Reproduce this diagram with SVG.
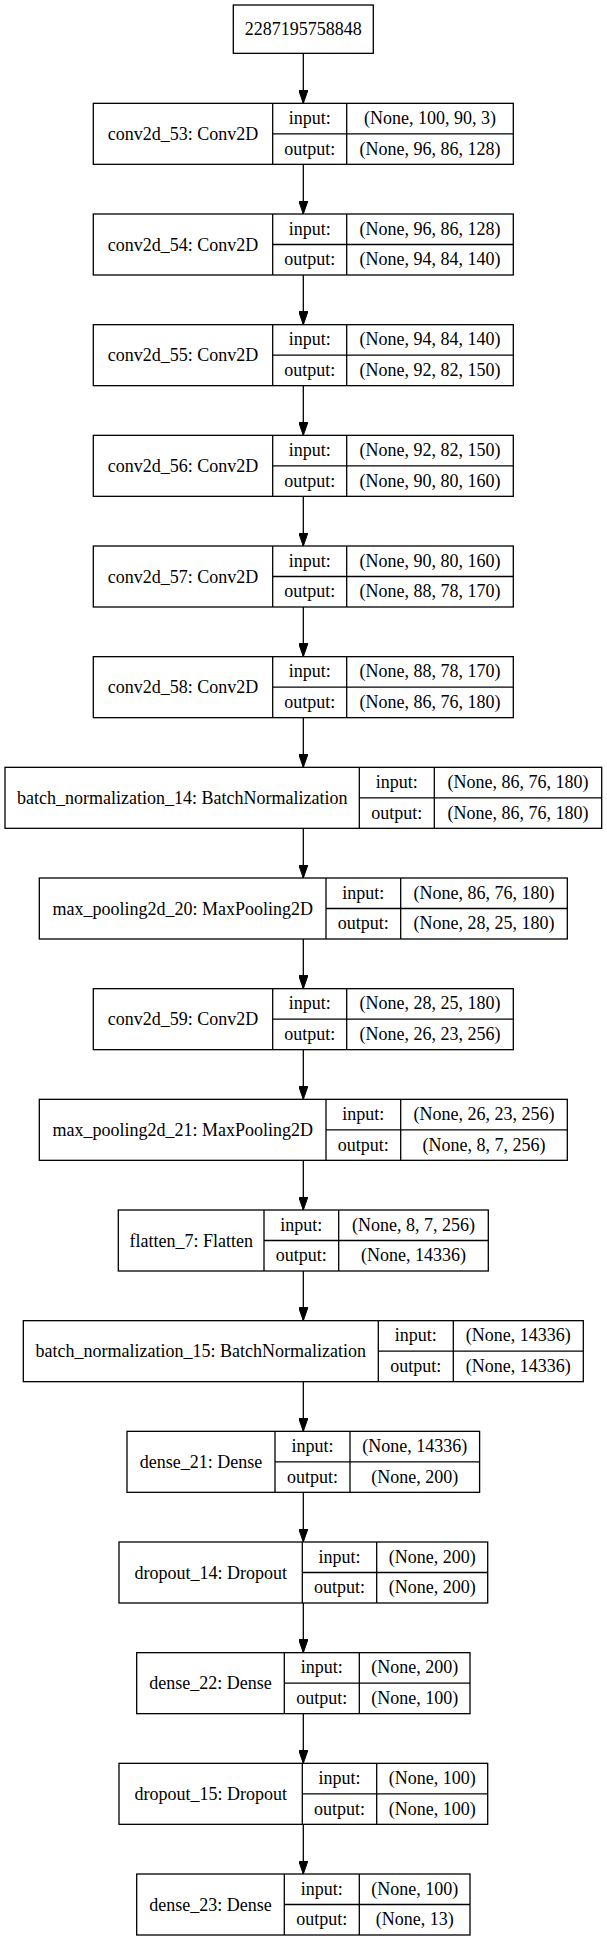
<svg xmlns="http://www.w3.org/2000/svg" width="607" height="1941" viewBox="0 0 607 1941" font-family="'Liberation Serif', 'Times New Roman', Times, 'DejaVu Serif', serif">
<style>
rect.b{fill:#fff;stroke:#000;stroke-width:1.3}
line.d{stroke:#000;stroke-width:1.3}
text{font-family:'Liberation Serif','Times New Roman',Times,'DejaVu Serif',serif;font-size:18px;fill:#000;text-anchor:middle}
.e line{stroke:#000;stroke-width:1.3}
</style>
<defs>
<marker id="ah" viewBox="0 0 13.33 9.33" refX="13.33" refY="4.67" markerWidth="13.33" markerHeight="9.33" markerUnits="userSpaceOnUse" orient="auto">
<path d="M0,0 L13.33,4.67 L0,9.33 z" fill="#000" stroke="#000" stroke-width="1"/>
</marker>
</defs>
<rect width="607" height="1941" fill="#fff"/>
<g id="edges" class="e">
<line x1="303.3" y1="53.33" x2="303.3" y2="103.33" marker-end="url(#ah)"/>
<line x1="303.3" y1="164.33" x2="303.3" y2="214" marker-end="url(#ah)"/>
<line x1="303.3" y1="275" x2="303.3" y2="324.67" marker-end="url(#ah)"/>
<line x1="303.3" y1="385.67" x2="303.3" y2="435.33" marker-end="url(#ah)"/>
<line x1="303.3" y1="496.33" x2="303.3" y2="546" marker-end="url(#ah)"/>
<line x1="303.3" y1="607" x2="303.3" y2="656.67" marker-end="url(#ah)"/>
<line x1="303.3" y1="717.67" x2="303.3" y2="767.33" marker-end="url(#ah)"/>
<line x1="303.3" y1="828.33" x2="303.3" y2="878" marker-end="url(#ah)"/>
<line x1="303.3" y1="939" x2="303.3" y2="988.67" marker-end="url(#ah)"/>
<line x1="303.3" y1="1049.67" x2="303.3" y2="1099.33" marker-end="url(#ah)"/>
<line x1="303.3" y1="1160.33" x2="303.3" y2="1210" marker-end="url(#ah)"/>
<line x1="303.3" y1="1271" x2="303.3" y2="1320.67" marker-end="url(#ah)"/>
<line x1="303.3" y1="1381.67" x2="303.3" y2="1431.33" marker-end="url(#ah)"/>
<line x1="303.3" y1="1492.33" x2="303.3" y2="1542" marker-end="url(#ah)"/>
<line x1="303.3" y1="1603" x2="303.3" y2="1652.67" marker-end="url(#ah)"/>
<line x1="303.3" y1="1713.67" x2="303.3" y2="1763.33" marker-end="url(#ah)"/>
<line x1="303.3" y1="1824.33" x2="303.3" y2="1874" marker-end="url(#ah)"/>
</g>
<g id="input_node">
<rect class="b" x="233.3" y="5" width="140" height="48.33"/>
<text x="303.3" y="35">2287195758848</text>
</g>
<g id="conv2d_53" transform="translate(0,103.33)">
<rect class="b" x="93.3" y="0" width="420" height="61"/>
<line class="d" x1="272.7" y1="0" x2="272.7" y2="61"/>
<line class="d" x1="346.7" y1="0" x2="346.7" y2="61"/>
<line class="d" x1="272.7" y1="30.5" x2="513.3" y2="30.5"/>
<text x="183" y="36.5">conv2d_53: Conv2D</text>
<text x="309.7" y="20.8">input:</text>
<text x="309.7" y="51.3">output:</text>
<text x="430" y="20.8">(None, 100, 90, 3)</text>
<text x="430" y="51.3">(None, 96, 86, 128)</text>
</g>
<g id="conv2d_54" transform="translate(0,214)">
<rect class="b" x="93.3" y="0" width="420" height="61"/>
<line class="d" x1="272.7" y1="0" x2="272.7" y2="61"/>
<line class="d" x1="346.7" y1="0" x2="346.7" y2="61"/>
<line class="d" x1="272.7" y1="30.5" x2="513.3" y2="30.5"/>
<text x="183" y="36.5">conv2d_54: Conv2D</text>
<text x="309.7" y="20.8">input:</text>
<text x="309.7" y="51.3">output:</text>
<text x="430" y="20.8">(None, 96, 86, 128)</text>
<text x="430" y="51.3">(None, 94, 84, 140)</text>
</g>
<g id="conv2d_55" transform="translate(0,324.67)">
<rect class="b" x="93.3" y="0" width="420" height="61"/>
<line class="d" x1="272.7" y1="0" x2="272.7" y2="61"/>
<line class="d" x1="346.7" y1="0" x2="346.7" y2="61"/>
<line class="d" x1="272.7" y1="30.5" x2="513.3" y2="30.5"/>
<text x="183" y="36.5">conv2d_55: Conv2D</text>
<text x="309.7" y="20.8">input:</text>
<text x="309.7" y="51.3">output:</text>
<text x="430" y="20.8">(None, 94, 84, 140)</text>
<text x="430" y="51.3">(None, 92, 82, 150)</text>
</g>
<g id="conv2d_56" transform="translate(0,435.33)">
<rect class="b" x="93.3" y="0" width="420" height="61"/>
<line class="d" x1="272.7" y1="0" x2="272.7" y2="61"/>
<line class="d" x1="346.7" y1="0" x2="346.7" y2="61"/>
<line class="d" x1="272.7" y1="30.5" x2="513.3" y2="30.5"/>
<text x="183" y="36.5">conv2d_56: Conv2D</text>
<text x="309.7" y="20.8">input:</text>
<text x="309.7" y="51.3">output:</text>
<text x="430" y="20.8">(None, 92, 82, 150)</text>
<text x="430" y="51.3">(None, 90, 80, 160)</text>
</g>
<g id="conv2d_57" transform="translate(0,546)">
<rect class="b" x="93.3" y="0" width="420" height="61"/>
<line class="d" x1="272.7" y1="0" x2="272.7" y2="61"/>
<line class="d" x1="346.7" y1="0" x2="346.7" y2="61"/>
<line class="d" x1="272.7" y1="30.5" x2="513.3" y2="30.5"/>
<text x="183" y="36.5">conv2d_57: Conv2D</text>
<text x="309.7" y="20.8">input:</text>
<text x="309.7" y="51.3">output:</text>
<text x="430" y="20.8">(None, 90, 80, 160)</text>
<text x="430" y="51.3">(None, 88, 78, 170)</text>
</g>
<g id="conv2d_58" transform="translate(0,656.67)">
<rect class="b" x="93.3" y="0" width="420" height="61"/>
<line class="d" x1="272.7" y1="0" x2="272.7" y2="61"/>
<line class="d" x1="346.7" y1="0" x2="346.7" y2="61"/>
<line class="d" x1="272.7" y1="30.5" x2="513.3" y2="30.5"/>
<text x="183" y="36.5">conv2d_58: Conv2D</text>
<text x="309.7" y="20.8">input:</text>
<text x="309.7" y="51.3">output:</text>
<text x="430" y="20.8">(None, 88, 78, 170)</text>
<text x="430" y="51.3">(None, 86, 76, 180)</text>
</g>
<g id="batch_normalization_14" transform="translate(0,767.33)">
<rect class="b" x="5" y="0" width="596.7" height="61"/>
<line class="d" x1="359.3" y1="0" x2="359.3" y2="61"/>
<line class="d" x1="434.3" y1="0" x2="434.3" y2="61"/>
<line class="d" x1="359.3" y1="30.5" x2="601.7" y2="30.5"/>
<text x="182.2" y="36.5">batch_normalization_14: BatchNormalization</text>
<text x="396.8" y="20.8">input:</text>
<text x="396.8" y="51.3">output:</text>
<text x="518" y="20.8">(None, 86, 76, 180)</text>
<text x="518" y="51.3">(None, 86, 76, 180)</text>
</g>
<g id="max_pooling2d_20" transform="translate(0,878)">
<rect class="b" x="39.3" y="0" width="528" height="61"/>
<line class="d" x1="326" y1="0" x2="326" y2="61"/>
<line class="d" x1="400.7" y1="0" x2="400.7" y2="61"/>
<line class="d" x1="326" y1="30.5" x2="567.3" y2="30.5"/>
<text x="182.7" y="36.5">max_pooling2d_20: MaxPooling2D</text>
<text x="363.3" y="20.8">input:</text>
<text x="363.3" y="51.3">output:</text>
<text x="484" y="20.8">(None, 86, 76, 180)</text>
<text x="484" y="51.3">(None, 28, 25, 180)</text>
</g>
<g id="conv2d_59" transform="translate(0,988.67)">
<rect class="b" x="93.3" y="0" width="420" height="61"/>
<line class="d" x1="272.7" y1="0" x2="272.7" y2="61"/>
<line class="d" x1="346.7" y1="0" x2="346.7" y2="61"/>
<line class="d" x1="272.7" y1="30.5" x2="513.3" y2="30.5"/>
<text x="183" y="36.5">conv2d_59: Conv2D</text>
<text x="309.7" y="20.8">input:</text>
<text x="309.7" y="51.3">output:</text>
<text x="430" y="20.8">(None, 28, 25, 180)</text>
<text x="430" y="51.3">(None, 26, 23, 256)</text>
</g>
<g id="max_pooling2d_21" transform="translate(0,1099.33)">
<rect class="b" x="39.3" y="0" width="528" height="61"/>
<line class="d" x1="326" y1="0" x2="326" y2="61"/>
<line class="d" x1="400.7" y1="0" x2="400.7" y2="61"/>
<line class="d" x1="326" y1="30.5" x2="567.3" y2="30.5"/>
<text x="182.7" y="36.5">max_pooling2d_21: MaxPooling2D</text>
<text x="363.3" y="20.8">input:</text>
<text x="363.3" y="51.3">output:</text>
<text x="484" y="20.8">(None, 26, 23, 256)</text>
<text x="484" y="51.3">(None, 8, 7, 256)</text>
</g>
<g id="flatten_7" transform="translate(0,1210)">
<rect class="b" x="118.3" y="0" width="370" height="61"/>
<line class="d" x1="264" y1="0" x2="264" y2="61"/>
<line class="d" x1="338.7" y1="0" x2="338.7" y2="61"/>
<line class="d" x1="264" y1="30.5" x2="488.3" y2="30.5"/>
<text x="191.2" y="36.5">flatten_7: Flatten</text>
<text x="301.3" y="20.8">input:</text>
<text x="301.3" y="51.3">output:</text>
<text x="413.5" y="20.8">(None, 8, 7, 256)</text>
<text x="413.5" y="51.3">(None, 14336)</text>
</g>
<g id="batch_normalization_15" transform="translate(0,1320.67)">
<rect class="b" x="23.3" y="0" width="560" height="61"/>
<line class="d" x1="378.3" y1="0" x2="378.3" y2="61"/>
<line class="d" x1="453.3" y1="0" x2="453.3" y2="61"/>
<line class="d" x1="378.3" y1="30.5" x2="583.3" y2="30.5"/>
<text x="200.8" y="36.5">batch_normalization_15: BatchNormalization</text>
<text x="415.8" y="20.8">input:</text>
<text x="415.8" y="51.3">output:</text>
<text x="518.3" y="20.8">(None, 14336)</text>
<text x="518.3" y="51.3">(None, 14336)</text>
</g>
<g id="dense_21" transform="translate(0,1431.33)">
<rect class="b" x="127" y="0" width="352.6" height="61"/>
<line class="d" x1="275" y1="0" x2="275" y2="61"/>
<line class="d" x1="350" y1="0" x2="350" y2="61"/>
<line class="d" x1="275" y1="30.5" x2="479.6" y2="30.5"/>
<text x="201" y="36.5">dense_21: Dense</text>
<text x="312.5" y="20.8">input:</text>
<text x="312.5" y="51.3">output:</text>
<text x="414.8" y="20.8">(None, 14336)</text>
<text x="414.8" y="51.3">(None, 200)</text>
</g>
<g id="dropout_14" transform="translate(0,1542)">
<rect class="b" x="119" y="0" width="368.7" height="61"/>
<line class="d" x1="302.3" y1="0" x2="302.3" y2="61"/>
<line class="d" x1="376.7" y1="0" x2="376.7" y2="61"/>
<line class="d" x1="302.3" y1="30.5" x2="487.7" y2="30.5"/>
<text x="210.7" y="36.5">dropout_14: Dropout</text>
<text x="339.5" y="20.8">input:</text>
<text x="339.5" y="51.3">output:</text>
<text x="432.2" y="20.8">(None, 200)</text>
<text x="432.2" y="51.3">(None, 200)</text>
</g>
<g id="dense_22" transform="translate(0,1652.67)">
<rect class="b" x="136.7" y="0" width="333.3" height="61"/>
<line class="d" x1="284.3" y1="0" x2="284.3" y2="61"/>
<line class="d" x1="359.3" y1="0" x2="359.3" y2="61"/>
<line class="d" x1="284.3" y1="30.5" x2="470" y2="30.5"/>
<text x="210.5" y="36.5">dense_22: Dense</text>
<text x="321.8" y="20.8">input:</text>
<text x="321.8" y="51.3">output:</text>
<text x="414.7" y="20.8">(None, 200)</text>
<text x="414.7" y="51.3">(None, 100)</text>
</g>
<g id="dropout_15" transform="translate(0,1763.33)">
<rect class="b" x="119" y="0" width="368.7" height="61"/>
<line class="d" x1="302.3" y1="0" x2="302.3" y2="61"/>
<line class="d" x1="376.7" y1="0" x2="376.7" y2="61"/>
<line class="d" x1="302.3" y1="30.5" x2="487.7" y2="30.5"/>
<text x="210.7" y="36.5">dropout_15: Dropout</text>
<text x="339.5" y="20.8">input:</text>
<text x="339.5" y="51.3">output:</text>
<text x="432.2" y="20.8">(None, 100)</text>
<text x="432.2" y="51.3">(None, 100)</text>
</g>
<g id="dense_23" transform="translate(0,1874)">
<rect class="b" x="136.7" y="0" width="333.3" height="61"/>
<line class="d" x1="284.3" y1="0" x2="284.3" y2="61"/>
<line class="d" x1="359.3" y1="0" x2="359.3" y2="61"/>
<line class="d" x1="284.3" y1="30.5" x2="470" y2="30.5"/>
<text x="210.5" y="36.5">dense_23: Dense</text>
<text x="321.8" y="20.8">input:</text>
<text x="321.8" y="51.3">output:</text>
<text x="414.7" y="20.8">(None, 100)</text>
<text x="414.7" y="51.3">(None, 13)</text>
</g>
</svg>
